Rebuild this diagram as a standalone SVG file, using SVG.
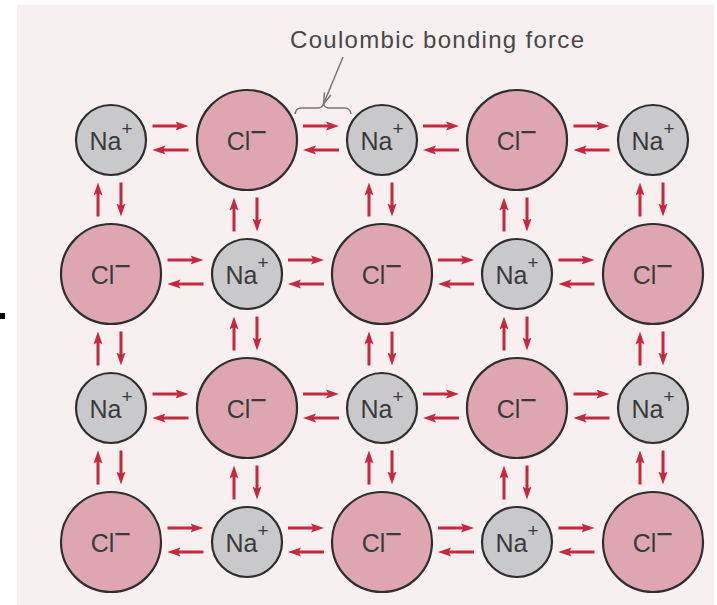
<svg xmlns="http://www.w3.org/2000/svg" width="717" height="605" viewBox="0 0 717 605">
<defs>
<marker id="ah" viewBox="0 0 13 10" markerWidth="13" markerHeight="10" refX="7" refY="5" orient="auto" markerUnits="userSpaceOnUse">
<path d="M0,0.5 L13,5 L0,9.5 L2.5,5 z" fill="#c5283f"/>
</marker>
<style>
.na{fill:#c9c9cc;stroke:#2e2e2e;stroke-width:2.2}
.cl{fill:#dea6b1;stroke:#2e2e2e;stroke-width:2.2}
.lbl{font-family:"Liberation Sans",Arial,sans-serif;font-size:25px;fill:#3a3a3a;text-anchor:middle}
.sp{font-size:19px}
.sm{font-size:29px}
.a{stroke:#c5283f;stroke-width:3;fill:none;marker-end:url(#ah)}
.note{font-family:"Liberation Sans",Arial,sans-serif;font-size:24px;fill:#474747}
.g{stroke:#777;stroke-width:1.5;fill:none}
</style>
</defs>
<rect x="0" y="0" width="717" height="605" fill="#ffffff"/>
<rect x="17" y="5" width="697" height="600" fill="#f8eff1"/>
<rect x="0" y="313" width="5" height="6" fill="#000"/>

<g id="label">
<text class="note" x="290" y="48" textLength="294" lengthAdjust="spacing">Coulombic bonding force</text>
<path class="g" d="M343,57 L323.5,104"/>
<path class="g" d="M324.5,92.5 L323.5,104 L330.9,95.1"/>
<path class="g" d="M295,114 Q296,108 301,108 L318,108 Q322,108 323.5,104 Q325,108 329,108 L345,108 Q350,108 351,114"/>
</g>

<g id="connectors">
<line class="a" x1="152.5" y1="126" x2="182.5" y2="126"/><line class="a" x1="188.5" y1="150" x2="158.5" y2="150"/>
<line class="a" x1="303" y1="126" x2="333" y2="126"/><line class="a" x1="339" y1="150" x2="309" y2="150"/>
<line class="a" x1="423" y1="126" x2="453" y2="126"/><line class="a" x1="459" y1="150" x2="429" y2="150"/>
<line class="a" x1="573.5" y1="126" x2="603.5" y2="126"/><line class="a" x1="609.5" y1="150" x2="579.5" y2="150"/>
<line class="a" x1="167.5" y1="260" x2="197.5" y2="260"/><line class="a" x1="203.5" y1="284" x2="173.5" y2="284"/>
<line class="a" x1="288" y1="260" x2="318" y2="260"/><line class="a" x1="324" y1="284" x2="294" y2="284"/>
<line class="a" x1="438" y1="260" x2="468" y2="260"/><line class="a" x1="474" y1="284" x2="444" y2="284"/>
<line class="a" x1="558.5" y1="260" x2="588.5" y2="260"/><line class="a" x1="594.5" y1="284" x2="564.5" y2="284"/>
<line class="a" x1="152.5" y1="394" x2="182.5" y2="394"/><line class="a" x1="188.5" y1="418" x2="158.5" y2="418"/>
<line class="a" x1="303" y1="394" x2="333" y2="394"/><line class="a" x1="339" y1="418" x2="309" y2="418"/>
<line class="a" x1="423" y1="394" x2="453" y2="394"/><line class="a" x1="459" y1="418" x2="429" y2="418"/>
<line class="a" x1="573.5" y1="394" x2="603.5" y2="394"/><line class="a" x1="609.5" y1="418" x2="579.5" y2="418"/>
<line class="a" x1="167.5" y1="528" x2="197.5" y2="528"/><line class="a" x1="203.5" y1="552" x2="173.5" y2="552"/>
<line class="a" x1="288" y1="528" x2="318" y2="528"/><line class="a" x1="324" y1="552" x2="294" y2="552"/>
<line class="a" x1="438" y1="528" x2="468" y2="528"/><line class="a" x1="474" y1="552" x2="444" y2="552"/>
<line class="a" x1="558.5" y1="528" x2="588.5" y2="528"/><line class="a" x1="594.5" y1="552" x2="564.5" y2="552"/>
<line class="a" x1="98" y1="216.5" x2="98" y2="188.5"/><line class="a" x1="121" y1="182.5" x2="121" y2="210.5"/>
<line class="a" x1="98" y1="365.5" x2="98" y2="337.5"/><line class="a" x1="121" y1="331.5" x2="121" y2="359.5"/>
<line class="a" x1="98" y1="484.5" x2="98" y2="456.5"/><line class="a" x1="121" y1="450.5" x2="121" y2="478.5"/>
<line class="a" x1="234" y1="231.5" x2="234" y2="203.5"/><line class="a" x1="257" y1="197.5" x2="257" y2="225.5"/>
<line class="a" x1="234" y1="350.5" x2="234" y2="322.5"/><line class="a" x1="257" y1="316.5" x2="257" y2="344.5"/>
<line class="a" x1="234" y1="499.5" x2="234" y2="471.5"/><line class="a" x1="257" y1="465.5" x2="257" y2="493.5"/>
<line class="a" x1="369" y1="216.5" x2="369" y2="188.5"/><line class="a" x1="392" y1="182.5" x2="392" y2="210.5"/>
<line class="a" x1="369" y1="365.5" x2="369" y2="337.5"/><line class="a" x1="392" y1="331.5" x2="392" y2="359.5"/>
<line class="a" x1="369" y1="484.5" x2="369" y2="456.5"/><line class="a" x1="392" y1="450.5" x2="392" y2="478.5"/>
<line class="a" x1="504" y1="231.5" x2="504" y2="203.5"/><line class="a" x1="527" y1="197.5" x2="527" y2="225.5"/>
<line class="a" x1="504" y1="350.5" x2="504" y2="322.5"/><line class="a" x1="527" y1="316.5" x2="527" y2="344.5"/>
<line class="a" x1="504" y1="499.5" x2="504" y2="471.5"/><line class="a" x1="527" y1="465.5" x2="527" y2="493.5"/>
<line class="a" x1="640" y1="216.5" x2="640" y2="188.5"/><line class="a" x1="663" y1="182.5" x2="663" y2="210.5"/>
<line class="a" x1="640" y1="365.5" x2="640" y2="337.5"/><line class="a" x1="663" y1="331.5" x2="663" y2="359.5"/>
<line class="a" x1="640" y1="484.5" x2="640" y2="456.5"/><line class="a" x1="663" y1="450.5" x2="663" y2="478.5"/>
</g>

<g id="n00"><circle class="na" cx="111" cy="140" r="35"/><text class="lbl" x="111" y="150">Na<tspan class="sp" dy="-15">+</tspan></text></g>
<g id="n01"><circle class="cl" cx="247" cy="140" r="50"/><text class="lbl" x="247" y="150">Cl<tspan class="sm" dy="-8">−</tspan></text></g>
<g id="n02"><circle class="na" cx="382" cy="140" r="35"/><text class="lbl" x="382" y="150">Na<tspan class="sp" dy="-15">+</tspan></text></g>
<g id="n03"><circle class="cl" cx="517" cy="140" r="50"/><text class="lbl" x="517" y="150">Cl<tspan class="sm" dy="-8">−</tspan></text></g>
<g id="n04"><circle class="na" cx="653" cy="140" r="35"/><text class="lbl" x="653" y="150">Na<tspan class="sp" dy="-15">+</tspan></text></g>
<g id="n10"><circle class="cl" cx="111" cy="274" r="50"/><text class="lbl" x="111" y="284">Cl<tspan class="sm" dy="-8">−</tspan></text></g>
<g id="n11"><circle class="na" cx="247" cy="274" r="35"/><text class="lbl" x="247" y="284">Na<tspan class="sp" dy="-15">+</tspan></text></g>
<g id="n12"><circle class="cl" cx="382" cy="274" r="50"/><text class="lbl" x="382" y="284">Cl<tspan class="sm" dy="-8">−</tspan></text></g>
<g id="n13"><circle class="na" cx="517" cy="274" r="35"/><text class="lbl" x="517" y="284">Na<tspan class="sp" dy="-15">+</tspan></text></g>
<g id="n14"><circle class="cl" cx="653" cy="274" r="50"/><text class="lbl" x="653" y="284">Cl<tspan class="sm" dy="-8">−</tspan></text></g>
<g id="n20"><circle class="na" cx="111" cy="408" r="35"/><text class="lbl" x="111" y="418">Na<tspan class="sp" dy="-15">+</tspan></text></g>
<g id="n21"><circle class="cl" cx="247" cy="408" r="50"/><text class="lbl" x="247" y="418">Cl<tspan class="sm" dy="-8">−</tspan></text></g>
<g id="n22"><circle class="na" cx="382" cy="408" r="35"/><text class="lbl" x="382" y="418">Na<tspan class="sp" dy="-15">+</tspan></text></g>
<g id="n23"><circle class="cl" cx="517" cy="408" r="50"/><text class="lbl" x="517" y="418">Cl<tspan class="sm" dy="-8">−</tspan></text></g>
<g id="n24"><circle class="na" cx="653" cy="408" r="35"/><text class="lbl" x="653" y="418">Na<tspan class="sp" dy="-15">+</tspan></text></g>
<g id="n30"><circle class="cl" cx="111" cy="542" r="50"/><text class="lbl" x="111" y="552">Cl<tspan class="sm" dy="-8">−</tspan></text></g>
<g id="n31"><circle class="na" cx="247" cy="542" r="35"/><text class="lbl" x="247" y="552">Na<tspan class="sp" dy="-15">+</tspan></text></g>
<g id="n32"><circle class="cl" cx="382" cy="542" r="50"/><text class="lbl" x="382" y="552">Cl<tspan class="sm" dy="-8">−</tspan></text></g>
<g id="n33"><circle class="na" cx="517" cy="542" r="35"/><text class="lbl" x="517" y="552">Na<tspan class="sp" dy="-15">+</tspan></text></g>
<g id="n34"><circle class="cl" cx="653" cy="542" r="50"/><text class="lbl" x="653" y="552">Cl<tspan class="sm" dy="-8">−</tspan></text></g>
</svg>
